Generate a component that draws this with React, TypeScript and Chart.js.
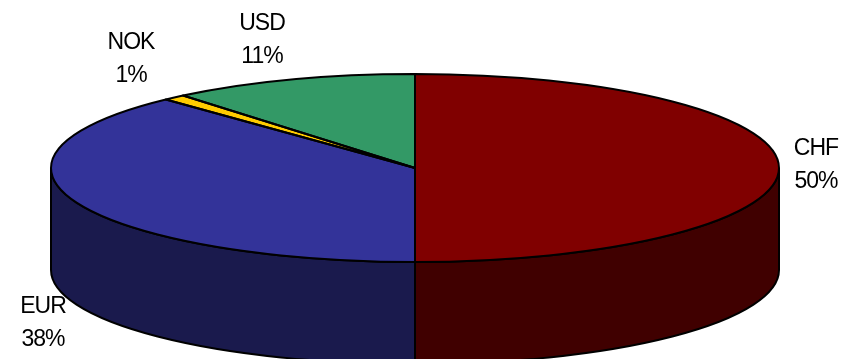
import React, { useEffect, useRef } from "react";
import { Chart, registerables } from "chart.js";

Chart.register(...registerables);

const currencies = ["CHF", "EUR", "NOK", "USD"];
const shares = [50, 38, 1, 11];
const topColors = ["#800000", "#333399", "#FFCC00", "#339966"];
const wallColors = ["#400000", "#1A1A4D", "#806600", "#1A4D33"];

// Label centres and first-line baselines, in canvas pixels.
const labelX = [816, 43, 131, 262];
const labelY = [155, 313, 49, 30];
const LINE_HEIGHT = 32.5;

const RADIUS = 364;
const TILT = 94 / RADIUS; // vertical squash of the disc
const DEPTH = 102; // height of the cylinder wall
const PEN = 2;

const pie3d = {
  id: "pie3d",
  beforeDatasetsDraw(chart: any) {
    const ctx = chart.ctx;
    const arcs = chart.getDatasetMeta(0).data;
    const { x: cx, y: cy, outerRadius: rx } = arcs[0];
    const ry = rx * TILT;

    // Only the part of each slice facing the viewer shows a wall.
    arcs.forEach((arc: any, i: number) => {
      const from = Math.max(arc.startAngle, 0);
      const to = Math.min(arc.endAngle, Math.PI);
      if (to <= from) return;
      ctx.save();
      ctx.beginPath();
      ctx.ellipse(cx, cy, rx, ry, 0, from, to);
      ctx.ellipse(cx, cy + DEPTH, rx, ry, 0, to, from, true);
      ctx.closePath();
      ctx.fillStyle = wallColors[i];
      ctx.fill();
      ctx.strokeStyle = "#000";
      ctx.lineWidth = PEN;
      ctx.stroke();
      ctx.restore();
    });

    // The chart's own arcs are filled under this squash.
    ctx.save();
    ctx.translate(0, cy);
    ctx.scale(1, TILT);
    ctx.translate(0, -cy);
  },
  afterDatasetsDraw(chart: any) {
    const ctx = chart.ctx;
    ctx.restore();
    const arcs = chart.getDatasetMeta(0).data;

    // Outlines go on unsquashed so the pen width stays even.
    arcs.forEach((arc: any) => {
      const ry = arc.outerRadius * TILT;
      ctx.save();
      ctx.beginPath();
      ctx.moveTo(arc.x, arc.y);
      ctx.ellipse(arc.x, arc.y, arc.outerRadius, ry, 0, arc.startAngle, arc.endAngle);
      ctx.closePath();
      ctx.strokeStyle = "#000";
      ctx.lineWidth = PEN;
      ctx.lineJoin = "round";
      ctx.stroke();
      ctx.restore();
    });

    ctx.save();
    ctx.fillStyle = "#000";
    ctx.font = '23px "Liberation Sans", Arial, sans-serif';
    (ctx as any).letterSpacing = "-1px";
    ctx.textAlign = "center";
    ctx.textBaseline = "alphabetic";
    currencies.forEach((name, i) => {
      ctx.fillText(name, labelX[i], labelY[i]);
      ctx.fillText(`${shares[i]}%`, labelX[i], labelY[i] + LINE_HEIGHT);
    });
    ctx.restore();
  },
};

export default function App() {
  const ref = useRef<HTMLCanvasElement>(null);

  useEffect(() => {
    document.body.style.margin = "0";
    document.body.style.background = "#fff";
    const chart = new Chart(ref.current!, {
      type: "pie",
      data: {
        labels: currencies,
        datasets: [
          {
            data: shares,
            backgroundColor: topColors,
            borderWidth: 0,
            radius: RADIUS,
            clip: false,
          } as any,
        ],
      },
      options: {
        animation: false,
        responsive: false,
        layout: { padding: { right: 19, bottom: 23 } },
        plugins: { legend: { display: false }, tooltip: { enabled: false } },
      },
      plugins: [pie3d],
    });
    return () => chart.destroy();
  }, []);

  return <canvas ref={ref} width={849} height={359} style={{ display: "block" }} />;
}
